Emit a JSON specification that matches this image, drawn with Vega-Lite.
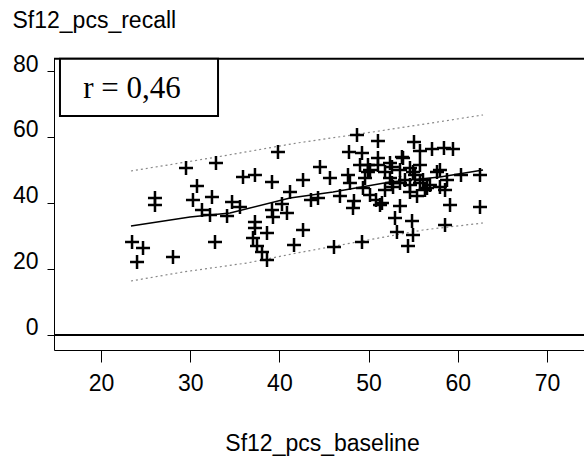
{
  "$schema": "https://vega.github.io/schema/vega-lite/v6.json",
  "width": 530,
  "height": 292,
  "autosize": "none",
  "padding": {"left": 54, "top": 58, "right": 0, "bottom": 107},
  "background": "white",
  "config": {
    "view": {"stroke": null},
    "axis": {
      "domainColor": "black",
      "tickColor": "black",
      "labelColor": "black",
      "titleColor": "black",
      "labelFont": "Liberation Sans",
      "titleFont": "Liberation Sans",
      "labelFontSize": 23,
      "titleFontSize": 23,
      "titleFontWeight": "normal",
      "grid": false
    }
  },
  "datasets": {
    "points": [
      {"baseline": 23.48, "recall": 28.18}, {"baseline": 24.71, "recall": 26.36}, {"baseline": 24.04, "recall": 22.12},
      {"baseline": 28.07, "recall": 23.64}, {"baseline": 26.05, "recall": 41.52}, {"baseline": 26.05, "recall": 39.39},
      {"baseline": 29.53, "recall": 50.61}, {"baseline": 32.89, "recall": 52.12}, {"baseline": 30.76, "recall": 45.15},
      {"baseline": 30.31, "recall": 40.91}, {"baseline": 32.44, "recall": 41.82}, {"baseline": 31.32, "recall": 37.88},
      {"baseline": 32.22, "recall": 36.36}, {"baseline": 34.13, "recall": 36.06}, {"baseline": 32.78, "recall": 28.18},
      {"baseline": 34.69, "recall": 40.30}, {"baseline": 35.58, "recall": 38.79}, {"baseline": 35.92, "recall": 47.88},
      {"baseline": 37.26, "recall": 48.48}, {"baseline": 39.17, "recall": 46.36}, {"baseline": 39.84, "recall": 55.45},
      {"baseline": 41.19, "recall": 43.33}, {"baseline": 40.29, "recall": 39.70}, {"baseline": 40.85, "recall": 36.97},
      {"baseline": 39.17, "recall": 37.88}, {"baseline": 39.28, "recall": 35.76}, {"baseline": 37.26, "recall": 34.24},
      {"baseline": 37.26, "recall": 32.42}, {"baseline": 38.61, "recall": 30.91}, {"baseline": 37.04, "recall": 29.39},
      {"baseline": 37.49, "recall": 26.97}, {"baseline": 38.05, "recall": 25.15}, {"baseline": 38.61, "recall": 22.73},
      {"baseline": 41.64, "recall": 27.27}, {"baseline": 42.65, "recall": 46.97}, {"baseline": 42.65, "recall": 31.82},
      {"baseline": 48.70, "recall": 60.61}, {"baseline": 51.05, "recall": 58.79}, {"baseline": 47.80, "recall": 55.45},
      {"baseline": 49.26, "recall": 55.15}, {"baseline": 44.55, "recall": 50.91}, {"baseline": 45.67, "recall": 47.58},
      {"baseline": 47.69, "recall": 48.48}, {"baseline": 47.91, "recall": 46.06}, {"baseline": 49.37, "recall": 44.55},
      {"baseline": 50.16, "recall": 50.00}, {"baseline": 51.05, "recall": 53.64}, {"baseline": 52.40, "recall": 52.12},
      {"baseline": 53.86, "recall": 53.64}, {"baseline": 54.64, "recall": 50.61}, {"baseline": 53.52, "recall": 50.00},
      {"baseline": 52.40, "recall": 47.58}, {"baseline": 52.74, "recall": 44.85}, {"baseline": 54.08, "recall": 46.97},
      {"baseline": 55.20, "recall": 48.48}, {"baseline": 56.10, "recall": 46.97}, {"baseline": 56.88, "recall": 45.45},
      {"baseline": 57.67, "recall": 49.39}, {"baseline": 58.79, "recall": 46.97}, {"baseline": 58.57, "recall": 43.94},
      {"baseline": 60.36, "recall": 48.48}, {"baseline": 62.49, "recall": 48.48}, {"baseline": 44.33, "recall": 41.52},
      {"baseline": 43.54, "recall": 40.91}, {"baseline": 46.79, "recall": 42.12}, {"baseline": 48.36, "recall": 40.61},
      {"baseline": 48.25, "recall": 38.48}, {"baseline": 50.83, "recall": 40.91}, {"baseline": 51.28, "recall": 39.39},
      {"baseline": 53.52, "recall": 39.09}, {"baseline": 55.43, "recall": 42.12}, {"baseline": 59.13, "recall": 39.39},
      {"baseline": 62.49, "recall": 38.79}, {"baseline": 52.96, "recall": 35.45}, {"baseline": 54.87, "recall": 34.55},
      {"baseline": 53.18, "recall": 31.21}, {"baseline": 54.98, "recall": 30.30}, {"baseline": 54.42, "recall": 26.97},
      {"baseline": 58.57, "recall": 33.33}, {"baseline": 46.12, "recall": 26.67}, {"baseline": 49.26, "recall": 28.18},
      {"baseline": 55.09, "recall": 58.48}, {"baseline": 55.76, "recall": 55.76}, {"baseline": 57.11, "recall": 56.36},
      {"baseline": 58.45, "recall": 56.67}, {"baseline": 59.46, "recall": 56.36}, {"baseline": 53.74, "recall": 53.94},
      {"baseline": 51.84, "recall": 43.94}, {"baseline": 50.16, "recall": 42.42}, {"baseline": 55.76, "recall": 51.52},
      {"baseline": 56.32, "recall": 43.94}, {"baseline": 49.04, "recall": 51.52}, {"baseline": 54.64, "recall": 43.33},
      {"baseline": 49.60, "recall": 47.60}, {"baseline": 51.84, "recall": 49.39},
      {"baseline": 49.93, "recall": 51.52}, {"baseline": 51.05, "recall": 51.52}, {"baseline": 49.93, "recall": 49.39},
      {"baseline": 52.62, "recall": 50.91}, {"baseline": 54.98, "recall": 49.39}, {"baseline": 58.00, "recall": 50.00},
      {"baseline": 52.62, "recall": 46.06}, {"baseline": 53.52, "recall": 46.06}, {"baseline": 54.64, "recall": 45.45},
      {"baseline": 55.76, "recall": 46.06}, {"baseline": 56.55, "recall": 44.55}, {"baseline": 58.00, "recall": 44.85},
      {"baseline": 51.50, "recall": 40.00}
    ],
    "fit": [
      {"baseline": 23.36, "recall": 33.03}, {"baseline": 29.98, "recall": 35.76}, {"baseline": 34.46, "recall": 36.97},
      {"baseline": 41.19, "recall": 41.52}, {"baseline": 46.01, "recall": 43.33}, {"baseline": 52.40, "recall": 46.36},
      {"baseline": 58.00, "recall": 47.88}, {"baseline": 62.83, "recall": 50.00}
    ],
    "bands": [
      {"band": "upper", "baseline": 23.36, "recall": 49.70}, {"band": "upper", "baseline": 33.00, "recall": 53.94},
      {"band": "upper", "baseline": 41.97, "recall": 58.18}, {"band": "upper", "baseline": 50.49, "recall": 61.52},
      {"band": "upper", "baseline": 62.83, "recall": 66.67},
      {"band": "lower", "baseline": 23.36, "recall": 16.36}, {"band": "lower", "baseline": 29.19, "recall": 19.09},
      {"band": "lower", "baseline": 36.37, "recall": 21.82}, {"band": "lower", "baseline": 41.97, "recall": 24.85},
      {"band": "lower", "baseline": 48.70, "recall": 28.18}, {"band": "lower", "baseline": 56.10, "recall": 31.82},
      {"band": "lower", "baseline": 62.83, "recall": 33.94}
    ],
    "box": [
      {"x1": 15.4, "x2": 33.12, "y1": 66.36, "y2": 83.7, "tx": 23.48, "ty": 71.8, "label": "r = 0,46"}
    ],
    "zero": [{"level": 0}]
  },
  "layer": [
    {
      "data": {"name": "zero"},
      "mark": {"type": "rule", "color": "black", "strokeWidth": 2},
      "encoding": {
        "y": {
          "field": "level", "type": "quantitative",
          "scale": {"domain": [-4.55, 83.94], "nice": false, "zero": false},
          "axis": {
            "values": [0, 20, 40, 60, 80],
            "tickSize": 7,
            "labelPadding": 9,
            "labelBaseline": "alphabetic",
            "title": "Sf12_pcs_recall",
            "titleAngle": 0,
            "titleAlign": "left",
            "titleBaseline": "alphabetic",
            "titleX": -42,
            "titleY": -31
          }
        }
      }
    },
    {
      "data": {"name": "zero"},
      "mark": {"type": "rule", "color": "black", "strokeWidth": 2},
      "encoding": {"y": {"datum": 83.7, "type": "quantitative"}}
    },
    {
      "data": {"name": "bands"},
      "mark": {"type": "line", "color": "#888888", "strokeWidth": 1.2, "strokeDash": [2, 3]},
      "encoding": {
        "x": {
          "field": "baseline", "type": "quantitative",
          "scale": {"domain": [14.73, 74.15], "nice": false, "zero": false},
          "axis": {
            "values": [20, 30, 40, 50, 60, 70],
            "tickSize": 12,
            "labelPadding": 10,
            "title": "Sf12_pcs_baseline",
            "titleX": 268,
            "titleY": 100,
            "titleBaseline": "alphabetic"
          }
        },
        "y": {"field": "recall", "type": "quantitative"},
        "detail": {"field": "band"}
      }
    },
    {
      "data": {"name": "fit"},
      "mark": {"type": "line", "color": "black", "strokeWidth": 1.5},
      "encoding": {
        "x": {"field": "baseline", "type": "quantitative"},
        "y": {"field": "recall", "type": "quantitative"}
      }
    },
    {
      "data": {"name": "points"},
      "mark": {"type": "point", "shape": "M-1,0H1M0,-1V1", "size": 196, "filled": false, "stroke": "black", "strokeWidth": 2.5, "opacity": 1},
      "encoding": {
        "x": {"field": "baseline", "type": "quantitative"},
        "y": {"field": "recall", "type": "quantitative"}
      }
    },
    {
      "data": {"name": "box"},
      "mark": {"type": "rect", "fill": "white", "stroke": "black", "strokeWidth": 2},
      "encoding": {
        "x": {"field": "x1", "type": "quantitative"},
        "x2": {"field": "x2"},
        "y": {"field": "y1", "type": "quantitative"},
        "y2": {"field": "y2"}
      }
    },
    {
      "data": {"name": "box"},
      "mark": {"type": "text", "font": "Liberation Serif", "fontSize": 31, "align": "center", "baseline": "alphabetic", "color": "black"},
      "encoding": {
        "x": {"field": "tx", "type": "quantitative"},
        "y": {"field": "ty", "type": "quantitative"},
        "text": {"field": "label"}
      }
    }
  ]
}
